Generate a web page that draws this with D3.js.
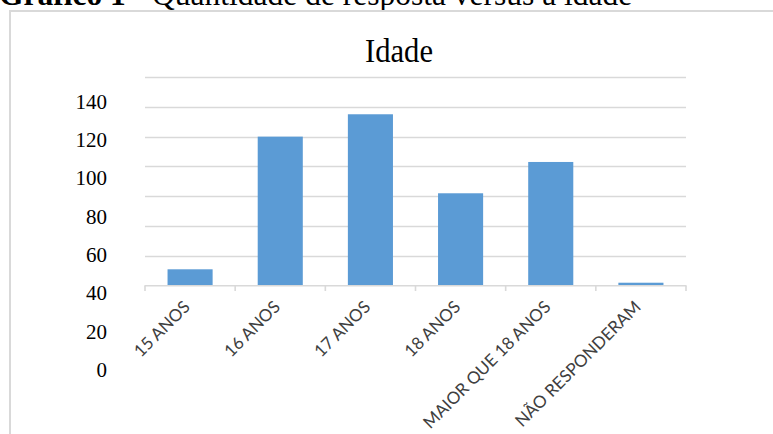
<!DOCTYPE html>
<html>
<head>
<meta charset="utf-8">
<script src="https://cdn.jsdelivr.net/npm/d3@7"></script>
<style>
  html, body { margin: 0; padding: 0; background: #fff; overflow: hidden; }
  svg { display: block; }
</style>
</head>
<body>
<svg id="chart" width="773" height="434"></svg>
<script>
// ---- data ----
const categories = ["15 ANOS", "16 ANOS", "17 ANOS", "18 ANOS", "MAIOR QUE 18 ANOS", "NÃO RESPONDERAM"];
const values = [11, 100, 115, 62, 83, 2];
const yTicks = [0, 20, 40, 60, 80, 100, 120, 140];
const chartTitle = "Idade";
const captionBold = "Gráfico 1";
const captionText = " - Quantidade de resposta versus a idade";

// ---- drawing ----
const svg = d3.select("#chart");

// caption (partially cut off at top, as in the source)
const cap = svg.append("text")
  .attr("x", -1).attr("y", 5)
  .attr("font-family", "'Liberation Serif', 'Times New Roman', serif")
  .attr("font-size", 31.5)
  .attr("fill", "#000");
cap.append("tspan").attr("font-weight", "bold").text(captionBold);
cap.append("tspan").text(captionText);

// chart frame
svg.append("rect")
  .attr("x", 10).attr("y", 11)
  .attr("width", 800).attr("height", 450)
  .attr("fill", "#fff")
  .attr("stroke", "#d9d9d9").attr("stroke-width", 2);

// title
svg.append("text")
  .attr("transform", "translate(399,61.5) scale(0.9,1)")
  .attr("text-anchor", "middle")
  .attr("font-family", "'Liberation Serif', 'Times New Roman', serif")
  .attr("font-size", 34)
  .attr("fill", "#000")
  .text(chartTitle);

const x = d3.scaleBand().domain(categories).range([145, 686])
  .paddingInner(0.5).paddingOuter(0.25);
const y = d3.scaleLinear().domain([0, 140]).range([285.7, 77]);
// value labels drawn on their own (offset) scale, as in the source image
const yLab = d3.scaleLinear().domain([0, 140]).range([370, 101.7]);

// gridlines
svg.append("g").selectAll("line").data(yTicks.filter(d => d > 0)).join("line")
  .attr("x1", 145).attr("x2", 686)
  .attr("y1", d => Math.round(y(d)) + 0.5).attr("y2", d => Math.round(y(d)) + 0.5)
  .attr("stroke", "#d9d9d9").attr("stroke-width", 1.3);

// bars
svg.append("g").selectAll("rect").data(categories).join("rect")
  .attr("x", d => x(d))
  .attr("width", x.bandwidth())
  .attr("y", (d, i) => y(values[i]))
  .attr("height", (d, i) => y(0) - y(values[i]))
  .attr("fill", "#5b9bd5");

// x axis line + ticks
const step = x.step();
const bounds = d3.range(categories.length + 1).map(i => 145 + i * step);
svg.append("line")
  .attr("x1", 144.5).attr("x2", 686.5)
  .attr("y1", 285.8).attr("y2", 285.8)
  .attr("stroke", "#d9d9d9").attr("stroke-width", 1.6);
svg.append("g").selectAll("line").data(bounds).join("line")
  .attr("x1", d => d).attr("x2", d => d)
  .attr("y1", 285.8).attr("y2", 291)
  .attr("stroke", "#d9d9d9").attr("stroke-width", 1.6);

// x labels
svg.append("g").selectAll("text").data(categories).join("text")
  .attr("transform", d => `translate(${x(d) + x.bandwidth() / 2 + 1},308) rotate(-45)`)
  .attr("text-anchor", "end")
  .attr("font-family", "Lato, 'Open Sans', sans-serif")
  .attr("font-size", 17)
  .attr("fill", "#404040")
  .text(d => d);

// y labels
svg.append("g").selectAll("text").data(yTicks).join("text")
  .attr("x", 107)
  .attr("y", d => yLab(d))
  .attr("dy", "0.34em")
  .attr("text-anchor", "end")
  .attr("font-family", "'Liberation Serif', 'Times New Roman', serif")
  .attr("font-size", 21)
  .attr("fill", "#000")
  .text(d => d);
</script>
</body>
</html>
